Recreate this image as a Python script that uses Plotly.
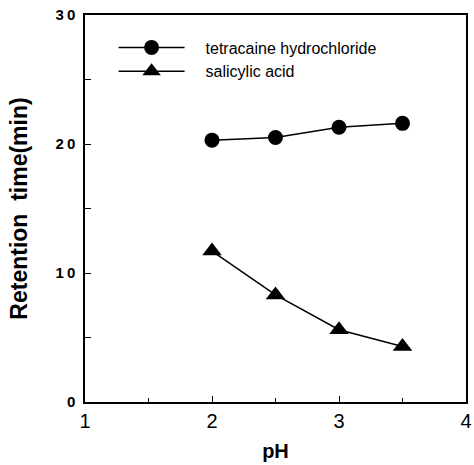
import plotly.graph_objects as go

ph = [2.0, 2.5, 3.0, 3.5]
tetracaine = [20.3, 20.5, 21.3, 21.6]
salicylic = [11.7, 8.3, 5.6, 4.3]
x_ticks = [1, 2, 3, 4]
y_ticks = [0, 10, 20, 30]
names = ["tetracaine hydrochloride", "salicylic acid"]

pad = "\u200b\u2003"

fig = go.Figure()
fig.add_trace(go.Scatter(
    x=ph, y=tetracaine, mode="lines+markers", name=pad + names[0],
    line=dict(color="black", width=1.5),
    marker=dict(symbol="circle", size=15, color="black"),
))
fig.add_trace(go.Scatter(
    x=ph, y=salicylic, mode="lines+markers", name=pad + names[1],
    line=dict(color="black", width=1.5),
    marker=dict(symbol="triangle-up", size=17, color="black"),
))

fam = "Liberation Sans, Arial, sans-serif"

fig.update_layout(
    width=474, height=465,
    margin=dict(l=85, r=8, t=15, b=63, autoexpand=False),
    paper_bgcolor="white", plot_bgcolor="white",
    showlegend=True,
    legend=dict(
        x=0.075, y=0.96, xanchor="left", yanchor="top",
        bgcolor="rgba(0,0,0,0)",
        font=dict(family=fam, size=16, color="black"),
        itemwidth=66, tracegroupgap=0,
    ),
    xaxis=dict(
        range=[1, 4], tickvals=x_ticks, ticktext=[str(v) for v in x_ticks],
        ticks="inside", ticklen=6, tickwidth=1.2, tickcolor="black",
        minor=dict(dtick=0.5, ticks="inside", ticklen=4, tickcolor="black", tickwidth=1.2),
        showline=True, linecolor="black", linewidth=1.5, mirror=True,
        showgrid=False, zeroline=False, automargin=False,
        ticklabeloverflow="allow",
        tickfont=dict(family=fam, size=20, color="black"),
        title=dict(text="<b>pH</b>", font=dict(family=fam, size=20, color="black"), standoff=13),
    ),
    yaxis=dict(
        range=[0, 30], tickvals=y_ticks,
        ticktext=["<b>%s</b>" % "\u2009".join(str(v)) for v in y_ticks],
        ticks="inside", ticklen=6, tickwidth=1.2, tickcolor="black",
        minor=dict(dtick=5, ticks="inside", ticklen=6, tickcolor="black", tickwidth=1.2),
        showline=True, linecolor="black", linewidth=1.5, mirror=True,
        showgrid=False, zeroline=False, automargin=False,
        ticklabelstandoff=5,
        tickfont=dict(family=fam, size=15, color="black"),
        title=dict(text="<b>Retention&nbsp;&nbsp;time(min)</b>",
                   font=dict(family=fam, size=23, color="black"), standoff=22),
    ),
)

fig.write_html("out.html")
